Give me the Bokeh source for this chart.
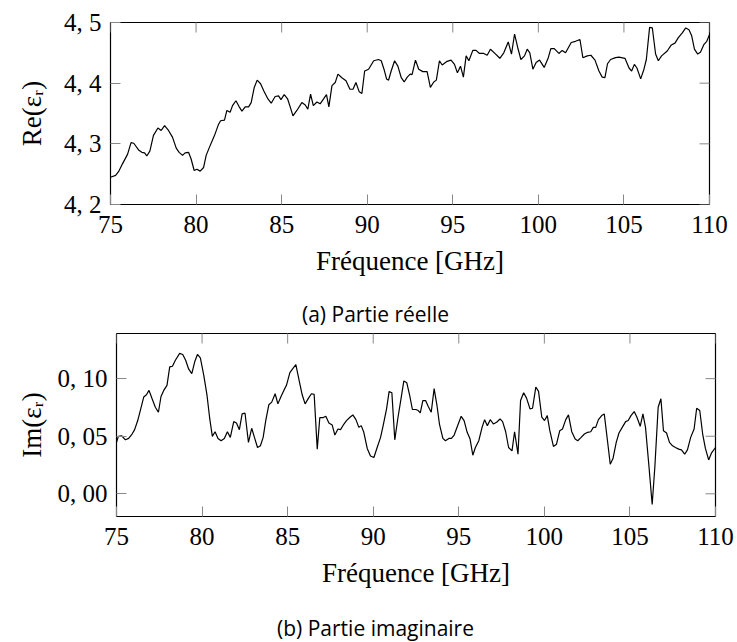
import math
from bokeh.plotting import figure
from bokeh.layouts import column, row
from bokeh.models import FixedTicker, CustomJSTickFormatter, Range1d
from bokeh.core.properties import value
from bokeh.embed import file_html
from bokeh.resources import INLINE

# ---- data ----
freq_re = [75.0, 75.3, 75.47, 75.7, 76.0, 76.2, 76.36, 76.64, 76.83, 76.99, 77.12, 77.3, 77.51, 77.77,
           77.96, 78.16, 78.39, 78.62, 78.84, 79.01, 79.21, 79.36, 79.56, 79.71, 79.89, 80.05, 80.24,
           80.44, 80.59, 80.79, 81.08, 81.31, 81.43, 81.66, 81.8, 81.99, 82.13, 82.33, 82.52, 82.68,
           82.87, 83.07, 83.22, 83.4, 83.57, 83.77, 83.96, 84.2, 84.39, 84.62, 84.82, 84.96, 85.15,
           85.35, 85.5, 85.66, 85.89, 86.18, 86.38, 86.53, 86.69, 86.85, 87.06, 87.25, 87.45, 87.62,
           87.76, 87.94, 88.13, 88.29, 88.52, 88.76, 88.99, 89.17, 89.34, 89.53, 89.69, 89.85, 90.08,
           90.38, 90.66, 90.82, 90.98, 91.13, 91.25, 91.4, 91.6, 91.79, 91.99, 92.16, 92.34, 92.51,
           92.62, 92.82, 93.01, 93.25, 93.5, 93.69, 93.89, 94.04, 94.22, 94.38, 94.67, 94.9, 95.1,
           95.27, 95.45, 95.62, 95.78, 95.94, 96.17, 96.36, 96.56, 96.81, 97.01, 97.2, 97.46, 97.75,
           97.98, 98.24, 98.43, 98.61, 98.8, 98.98, 99.19, 99.35, 99.5, 99.68, 99.87, 100.07, 100.34,
           100.58, 100.73, 100.93, 101.2, 101.39, 101.59, 101.92, 102.17, 102.43, 102.6, 102.86,
           103.07, 103.31, 103.54, 103.73, 103.89, 104.04, 104.22, 104.51, 104.71, 105.06, 105.3,
           105.45, 105.61, 105.76, 105.98, 106.17, 106.31, 106.5, 106.66, 106.85, 107.01, 107.2,
           107.53, 107.77, 107.98, 108.18, 108.41, 108.61, 108.8, 108.96, 109.12, 109.31, 109.47,
           109.68, 109.84, 110.0]
eps_re = [4.245, 4.248, 4.254, 4.267, 4.283, 4.302, 4.301, 4.290, 4.286, 4.285, 4.280, 4.288, 4.314,
          4.326, 4.322, 4.330, 4.322, 4.311, 4.293, 4.286, 4.281, 4.285, 4.286, 4.275, 4.256, 4.258,
          4.255, 4.261, 4.281, 4.295, 4.314, 4.332, 4.338, 4.339, 4.355, 4.352, 4.363, 4.371, 4.361,
          4.354, 4.361, 4.361, 4.368, 4.393, 4.405, 4.399, 4.387, 4.374, 4.367, 4.378, 4.379, 4.373,
          4.381, 4.374, 4.361, 4.346, 4.355, 4.368, 4.364, 4.357, 4.382, 4.363, 4.369, 4.366, 4.374,
          4.381, 4.361, 4.396, 4.401, 4.415, 4.409, 4.404, 4.390, 4.390, 4.401, 4.386, 4.383, 4.420,
          4.423, 4.437, 4.439, 4.437, 4.423, 4.407, 4.405, 4.420, 4.437, 4.428, 4.409, 4.402, 4.410,
          4.415, 4.414, 4.438, 4.423, 4.419, 4.419, 4.393, 4.402, 4.405, 4.437, 4.430, 4.436, 4.438,
          4.431, 4.417, 4.428, 4.410, 4.445, 4.437, 4.454, 4.454, 4.449, 4.449, 4.446, 4.456, 4.449,
          4.441, 4.450, 4.468, 4.448, 4.481, 4.458, 4.439, 4.445, 4.456, 4.450, 4.423, 4.434, 4.438,
          4.426, 4.442, 4.457, 4.457, 4.449, 4.454, 4.450, 4.467, 4.469, 4.472, 4.442, 4.445, 4.446,
          4.438, 4.420, 4.410, 4.409, 4.432, 4.439, 4.442, 4.443, 4.441, 4.425, 4.420, 4.431, 4.425,
          4.407, 4.423, 4.439, 4.492, 4.491, 4.448, 4.437, 4.445, 4.453, 4.463, 4.466, 4.475, 4.483,
          4.491, 4.488, 4.478, 4.456, 4.448, 4.451, 4.464, 4.469, 4.480]

freq_im = [75.0, 75.11, 75.3, 75.52, 75.71, 75.91, 76.06, 76.24, 76.39, 76.59, 76.75, 76.9, 77.08,
           77.27, 77.45, 77.6, 77.76, 77.95, 78.11, 78.27, 78.44, 78.69, 78.87, 79.04, 79.22, 79.4,
           79.57, 79.73, 79.9, 80.1, 80.29, 80.45, 80.6, 80.76, 80.93, 81.11, 81.3, 81.48, 81.65,
           81.85, 82.01, 82.18, 82.34, 82.51, 82.71, 82.9, 83.06, 83.24, 83.41, 83.57, 83.72, 83.9,
           84.07, 84.27, 84.43, 84.62, 84.78, 84.93, 85.13, 85.3, 85.48, 85.67, 85.85, 86.02, 86.22,
           86.39, 86.55, 86.73, 86.88, 87.08, 87.23, 87.41, 87.6, 87.76, 87.94, 88.09, 88.29, 88.44,
           88.64, 88.81, 88.99, 89.16, 89.3, 89.45, 89.65, 89.84, 90.04, 90.23, 90.43, 90.58, 90.78,
           90.93, 91.09, 91.26, 91.44, 91.63, 91.79, 91.96, 92.14, 92.29, 92.49, 92.63, 92.75, 92.9,
           93.06, 93.21, 93.39, 93.56, 93.72, 93.87, 94.07, 94.22, 94.42, 94.57, 94.73, 94.92, 95.14,
           95.31, 95.49, 95.66, 95.82, 95.97, 96.17, 96.36, 96.51, 96.67, 96.84, 97.02, 97.21, 97.41,
           97.56, 97.74, 97.91, 98.11, 98.26, 98.46, 98.61, 98.79, 98.96, 99.16, 99.31, 99.5, 99.66,
           99.85, 100.01, 100.17, 100.32, 100.53, 100.71, 100.9, 101.06, 101.25, 101.41, 101.6,
           101.8, 101.95, 102.15, 102.34, 102.53, 102.71, 102.86, 103.0, 103.16, 103.35, 103.5,
           103.7, 103.85, 104.01, 104.2, 104.36, 104.55, 104.75, 104.9, 105.06, 105.25, 105.41,
           105.6, 105.76, 105.91, 106.11, 106.3, 106.46, 106.65, 106.81, 106.96, 107.14, 107.31,
           107.49, 107.66, 107.85, 108.01, 108.2, 108.36, 108.55, 108.75, 108.9, 109.08, 109.25,
           109.41, 109.6, 109.76, 110.0]
eps_im = [0.0446, 0.0499, 0.0504, 0.0469, 0.0481, 0.0519, 0.0557, 0.0636, 0.0723, 0.0840, 0.0860,
          0.0898, 0.0825, 0.0752, 0.0708, 0.0845, 0.0898, 0.0942, 0.1102, 0.1108, 0.1160, 0.1219,
          0.1210, 0.1160, 0.1082, 0.1044, 0.1146, 0.1210, 0.1181, 0.1029, 0.0854, 0.0650, 0.0499,
          0.0539, 0.0481, 0.0461, 0.0481, 0.0539, 0.0490, 0.0627, 0.0615, 0.0557, 0.0694, 0.0700,
          0.0446, 0.0569, 0.0490, 0.0402, 0.0417, 0.0490, 0.0636, 0.0773, 0.0796, 0.0869, 0.0781,
          0.0848, 0.0898, 0.0942, 0.1052, 0.1087, 0.1122, 0.0985, 0.0860, 0.0781, 0.0831, 0.0869,
          0.0863, 0.0388, 0.0662, 0.0662, 0.0673, 0.0615, 0.0598, 0.0510, 0.0563, 0.0557, 0.0606,
          0.0636, 0.0665, 0.0685, 0.0644, 0.0577, 0.0592, 0.0534, 0.0394, 0.0329, 0.0315, 0.0402,
          0.0490, 0.0592, 0.0738, 0.0889, 0.0878, 0.0469, 0.0656, 0.0831, 0.0980, 0.0965, 0.0848,
          0.0732, 0.0732, 0.0723, 0.0703, 0.0810, 0.0810, 0.0761, 0.0708, 0.0913, 0.0773, 0.0606,
          0.0481, 0.0461, 0.0481, 0.0481, 0.0510, 0.0586, 0.0673, 0.0636, 0.0534, 0.0475, 0.0335,
          0.0402, 0.0461, 0.0577, 0.0644, 0.0592, 0.0644, 0.0606, 0.0621, 0.0650, 0.0627, 0.0539,
          0.0402, 0.0373, 0.0539, 0.0344, 0.0810, 0.0878, 0.0831, 0.0738, 0.0743, 0.0927, 0.0889,
          0.0665, 0.0636, 0.0679, 0.0548, 0.0411, 0.0431, 0.0548, 0.0563, 0.0644, 0.0685, 0.0539,
          0.0475, 0.0461, 0.0490, 0.0519, 0.0534, 0.0539, 0.0577, 0.0577, 0.0644, 0.0679, 0.0694,
          0.0446, 0.0257, 0.0306, 0.0446, 0.0528, 0.0577, 0.0627, 0.0636, 0.0679, 0.0714, 0.0665,
          0.0586, 0.0694, 0.0577, 0.0242, -0.0093, 0.0242, 0.0752, 0.0825, 0.0548, 0.0528, 0.0446,
          0.0417, 0.0402, 0.0388, 0.0382, 0.0344, 0.0382, 0.0490, 0.0563, 0.0743, 0.0723, 0.0519,
          0.0394, 0.0294, 0.0353, 0.0402]

x_range_limits = [75, 110]
re_range_limits = [4.2, 4.5]
im_range_limits = [-0.0197, 0.1392]
x_ticks = [75, 80, 85, 90, 95, 100, 105, 110]
re_ticks = [4.2, 4.3, 4.4, 4.5]
im_ticks = [0.0, 0.05, 0.10]
x_label = "Fréquence [GHz]"
re_label = "Re(εᵣ)"
im_label = "Im(εᵣ)"
caption_re = "(a) Partie réelle"
caption_im = "(b) Partie imaginaire"

SERIF = "Liberation Serif"
TICK_FS = "25px"
LABEL_FS = "27px"
TICK_COLOR = "#888888"
TICK_LEN = 10
WIDTH = 736


def style_axis(ax):
    ax.axis_line_color = None
    ax.major_tick_in = TICK_LEN
    ax.major_tick_out = 0
    ax.major_tick_line_color = TICK_COLOR
    ax.major_tick_line_width = 1
    ax.minor_tick_line_color = None
    ax.major_label_text_font = SERIF
    ax.major_label_text_font_size = TICK_FS
    ax.major_label_text_color = "black"
    ax.axis_label_text_font = SERIF
    ax.axis_label_text_font_style = "normal"
    ax.axis_label_text_font_size = LABEL_FS
    ax.axis_label_text_color = "black"


def make_plot(xs, ys, yr, yticks, fmt_digits, ylabel, height,
              b_left, b_right, b_top, b_bottom, ylabel_standoff):
    p = figure(width=WIDTH, height=height, output_backend="svg", toolbar_location=None,
               x_range=Range1d(*x_range_limits), y_range=Range1d(*yr),
               min_border_left=b_left, min_border_right=b_right,
               min_border_top=b_top, min_border_bottom=b_bottom)
    p.background_fill_color = "white"
    p.border_fill_color = "white"
    p.outline_line_color = "black"
    p.outline_line_width = 1.2
    p.grid.visible = False

    # mirrored tick marks on the top and right edges (pgfplots style)
    n_x = len(x_ticks)
    n_y = len(yticks)
    p.scatter(x=x_ticks, y=[yr[1]] * n_x, marker="dash", angle=math.pi / 2,
              size=2 * TICK_LEN, line_color=TICK_COLOR, line_width=1)
    p.scatter(x=[x_range_limits[1]] * n_y, y=yticks, marker="dash",
              size=2 * TICK_LEN, line_color=TICK_COLOR, line_width=1)

    p.line(xs, ys, line_color="black", line_width=1.2)

    p.xaxis.ticker = FixedTicker(ticks=x_ticks)
    p.yaxis.ticker = FixedTicker(ticks=yticks)
    p.yaxis.formatter = CustomJSTickFormatter(
        code="return tick.toFixed(%d).replace('.', ', ');" % fmt_digits)
    p.xaxis.axis_label = x_label
    p.yaxis.axis_label = ylabel
    style_axis(p.xaxis[0])
    style_axis(p.yaxis[0])
    p.xaxis.major_label_standoff = 11
    p.yaxis.major_label_standoff = 9
    p.xaxis.axis_label_standoff = 10
    p.yaxis.axis_label_standoff = ylabel_standoff
    return p


def make_caption(text, height, left_pad):
    """A thin strip holding a sub-figure caption, centred in its box."""
    c = figure(width=WIDTH, height=height, output_backend="svg", toolbar_location=None,
               x_range=Range1d(0, 1), y_range=Range1d(0, 1),
               x_axis_location=None, y_axis_location=None,
               min_border_left=left_pad, min_border_right=0,
               min_border_top=0, min_border_bottom=0)
    c.outline_line_color = None
    c.grid.visible = False
    c.background_fill_color = "white"
    c.border_fill_color = "white"
    c.text(x=[0.5], y=[0.5], text=[text], text_align="center", text_baseline="middle",
           text_font=value("Open Sans"), text_font_size=value("21px"), text_color="black")
    return c


p1 = make_plot(freq_re, eps_re, re_range_limits, re_ticks, 1, re_label,
               height=296, b_left=110, b_right=27, b_top=22, b_bottom=92, ylabel_standoff=14)
c1 = make_caption(caption_re, height=34, left_pad=14)
p2 = make_plot(freq_im, eps_im, im_range_limits, im_ticks, 2, im_label,
               height=282, b_left=116, b_right=21, b_top=3, b_bottom=96, ylabel_standoff=8)
c2 = make_caption(caption_im, height=30, left_pad=14)

layout = column(row(p1), row(c1), row(p2), row(c2), spacing=0)
open("out.html", "w").write(file_html(layout, INLINE))
